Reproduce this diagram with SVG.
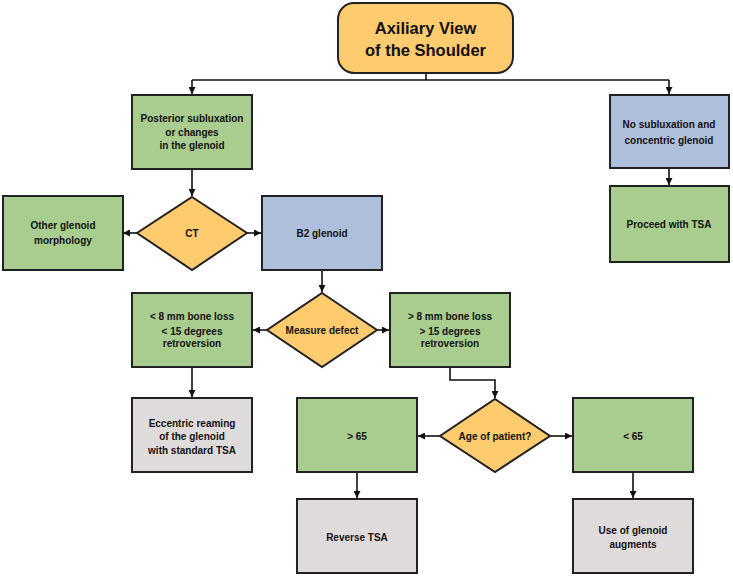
<svg xmlns="http://www.w3.org/2000/svg" width="733" height="577" viewBox="0 0 733 577">
<defs>
<style>
.box{stroke:#222;stroke-width:2}
.g{fill:#A9CD8E}.b{fill:#AEBFDB}.y{fill:#FECB6F}.gr{fill:#E0DBDB}
text{font-family:"Liberation Sans",Arial,sans-serif;font-weight:bold;font-size:10px;fill:#111;text-anchor:middle}
.t{font-size:16.5px}
.c{fill:none;stroke:#111;stroke-width:1.6}
</style>
<marker id="ah" viewBox="0 0 10 10" refX="10" refY="5" markerWidth="7" markerHeight="7" orient="auto" markerUnits="userSpaceOnUse"><path d="M0,0L10,5L0,10z" fill="#111"/></marker>
</defs>
<rect width="733" height="577" fill="#fff"/>
<g id="connectors">
<path class="c" d="M426,73V80"/>
<path class="c" d="M192,80H669" />
<path class="c" d="M192,80V94" marker-end="url(#ah)"/>
<path class="c" d="M669,80V94" marker-end="url(#ah)"/>
<path class="c" d="M669,168V185" marker-end="url(#ah)"/>
<path class="c" d="M192,169V196" marker-end="url(#ah)"/>
<path class="c" d="M137,233H123" marker-end="url(#ah)"/>
<path class="c" d="M247,233H261" marker-end="url(#ah)"/>
<path class="c" d="M322,270V292" marker-end="url(#ah)"/>
<path class="c" d="M267,330H253" marker-end="url(#ah)"/>
<path class="c" d="M377,330H389" marker-end="url(#ah)"/>
<path class="c" d="M192,367V397" marker-end="url(#ah)"/>
<path class="c" d="M450,367V380H495V398" marker-end="url(#ah)"/>
<path class="c" d="M440,436H418" marker-end="url(#ah)"/>
<path class="c" d="M550,436H572" marker-end="url(#ah)"/>
<path class="c" d="M357,472V498" marker-end="url(#ah)"/>
<path class="c" d="M633,472V498" marker-end="url(#ah)"/>
</g>
<g id="title"><rect class="box y" x="338" y="3" width="175" height="70" rx="16"/><text class="t" x="425.5" y="34">Axiliary View</text><text class="t" x="425.5" y="56">of the Shoulder</text></g>
<g id="posterior"><rect class="box g" x="132" y="95" width="120" height="74"/><text x="192" y="122">Posterior subluxation</text><text x="192" y="136">or changes</text><text x="192" y="149">in the glenoid</text></g>
<g id="nosub"><rect class="box b" x="610" y="95" width="119" height="73"/><text x="669" y="128">No subluxation and</text><text x="669" y="144">concentric glenoid</text></g>
<g id="proceed"><rect class="box g" x="610" y="186" width="119" height="76"/><text x="669" y="228">Proceed with TSA</text></g>
<g id="ct"><polygon class="box y" points="192,197 247,233 192,270 137,233"/><text x="192" y="237">CT</text></g>
<g id="other"><rect class="box g" x="3" y="196" width="120" height="74"/><text x="63" y="229">Other glenoid</text><text x="63" y="244">morphology</text></g>
<g id="b2"><rect class="box b" x="262" y="196" width="120" height="74"/><text x="322" y="237">B2 glenoid</text></g>
<g id="measure"><polygon class="box y" points="322,293 377,330 322,367 267,330"/><text x="322" y="334">Measure defect</text></g>
<g id="less8"><rect class="box g" x="132" y="293" width="120" height="74"/><text x="192" y="320">&lt; 8 mm bone loss</text><text x="192" y="335">&lt; 15 degrees</text><text x="192" y="347">retroversion</text></g>
<g id="more8"><rect class="box g" x="390" y="293" width="120" height="74"/><text x="450" y="320">&gt; 8 mm bone loss</text><text x="450" y="335">&gt; 15 degrees</text><text x="450" y="347">retroversion</text></g>
<g id="eccentric"><rect class="box gr" x="132" y="398" width="120" height="74"/><text x="192" y="427">Eccentric reaming</text><text x="192" y="440">of the glenoid</text><text x="192" y="454">with standard TSA</text></g>
<g id="age"><polygon class="box y" points="495,399 550,436 495,472 440,436"/><text x="495" y="440">Age of patient?</text></g>
<g id="gt65"><rect class="box g" x="297" y="398" width="120" height="74"/><text x="357" y="440">&gt; 65</text></g>
<g id="lt65"><rect class="box g" x="573" y="398" width="120" height="74"/><text x="633" y="440">&lt; 65</text></g>
<g id="reverse"><rect class="box gr" x="297" y="499" width="120" height="74"/><text x="357" y="541">Reverse TSA</text></g>
<g id="augments"><rect class="box gr" x="573" y="499" width="120" height="74"/><text x="633" y="534">Use of glenoid</text><text x="633" y="548">augments</text></g>
</svg>
